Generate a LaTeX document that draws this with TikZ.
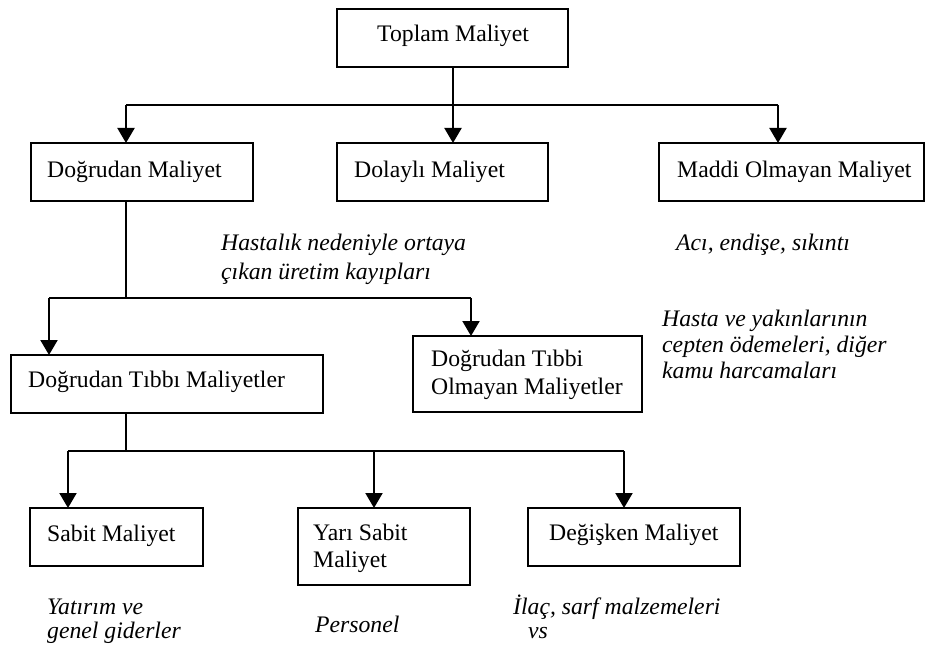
\documentclass[tikz,border=0pt]{standalone}
\usepackage{fontspec}
\setmainfont{Liberation Serif}
\usetikzlibrary{arrows.meta}
\begin{document}
\begin{tikzpicture}[x=1pt,y=-1pt,
  box/.style={draw,line width=2.1pt,inner sep=0pt,outer sep=0pt},
  lbl/.style={anchor=base west,inner sep=0pt,font=\fontsize{23.7}{28}\selectfont},
  note/.style={anchor=base west,inner sep=0pt,font=\fontsize{23.7}{28}\selectfont\itshape},
  ln/.style={line width=2.1pt},
  arr/.style={line width=2.1pt,-{Triangle[width=17pt,length=15pt]}}]
\useasboundingbox (0,0) rectangle (926,650);
% boxes
\node[box,minimum width=231pt,minimum height=58pt] (top) at (452.5,38) {};
\node[box,minimum width=222pt,minimum height=58pt] (dog) at (142,172) {};
\node[box,minimum width=211pt,minimum height=58pt] (dol) at (442.5,172) {};
\node[box,minimum width=265pt,minimum height=58pt] (mad) at (791.5,172) {};
\node[box,minimum width=312pt,minimum height=58pt] (dtm) at (167,384) {};
\node[box,minimum width=229pt,minimum height=76pt] (dtom) at (527.5,374) {};
\node[box,minimum width=173pt,minimum height=58pt] (sab) at (116.5,537) {};
\node[box,minimum width=172pt,minimum height=77pt] (yar) at (384,546.5) {};
\node[box,minimum width=212pt,minimum height=58pt] (deg) at (634,537) {};
% box texts
\node[lbl] (ttop) at (377,42) {Toplam Maliyet};
\node[lbl] (tdog) at (47,177) {Doğrudan Maliyet};
\node[lbl] (tdol) at (354,177) {Dolaylı Maliyet};
\node[lbl] (tmad) at (677,177) {Maddi Olmayan Maliyet};
\node[lbl] (tdtm) at (28,387) {Doğrudan Tıbbı Maliyetler};
\node[lbl] (tdtom1) at (431,366) {Doğrudan Tıbbi};
\node[lbl] (tdtom2) at (431,394) {Olmayan Maliyetler};
\node[lbl] (tsab) at (47,541) {Sabit Maliyet};
\node[lbl] (tyar1) at (313,540) {Yarı Sabit};
\node[lbl] (tyar2) at (313,567) {Maliyet};
\node[lbl] (tdeg) at (549,540) {Değişken Maliyet};
% notes
\node[note] (n1a) at (221,250) {Hastalık nedeniyle ortaya};
\node[note] (n1b) at (221,279) {çıkan üretim kayıpları};
\node[note] (n2) at (676,250) {Acı, endişe, sıkıntı};
\node[note] (n3a) at (662,326) {Hasta ve yakınlarının};
\node[note] (n3b) at (662,352) {cepten ödemeleri, diğer};
\node[note] (n3c) at (662,378) {kamu harcamaları};
\node[note] (n4a) at (47,614) {Yatırım ve};
\node[note] (n4b) at (47,638) {genel giderler};
\node[note] (n5) at (315,632) {Personel};
\node[note] (n6a) at (513,614) {İlaç, sarf malzemeleri};
\node[note] (n6b) at (528,638) {vs};
% level 1 connectors
\coordinate (j1) at (453,105);
\coordinate (j1l) at (126,105);
\coordinate (j1r) at (778,105);
\draw[ln] (j1 |- top.south) -- (j1);
\draw[ln] (j1l) -- (j1r);
\draw[arr] (j1l) -- (j1l |- dog.north);
\draw[arr] (j1) -- (j1 |- dol.north);
\draw[arr] (j1r) -- (j1r |- mad.north);
% level 2 connectors
\coordinate (j2) at (126,298);
\coordinate (j2l) at (49,298);
\coordinate (j2r) at (471,298);
\draw[ln] (j2 |- dog.south) -- (j2);
\draw[ln] (j2l) -- (j2r);
\draw[arr] (j2l) -- (j2l |- dtm.north);
\draw[arr] (j2r) -- (j2r |- dtom.north);
% level 3 connectors
\coordinate (j3) at (126,451);
\coordinate (j3l) at (68,451);
\coordinate (j3m) at (374,451);
\coordinate (j3r) at (624,451);
\draw[ln] (j3 |- dtm.south) -- (j3);
\draw[ln] (j3l) -- (j3r);
\draw[arr] (j3l) -- (j3l |- sab.north);
\draw[arr] (j3m) -- (j3m |- yar.north);
\draw[arr] (j3r) -- (j3r |- deg.north);
\end{tikzpicture}
\end{document}
